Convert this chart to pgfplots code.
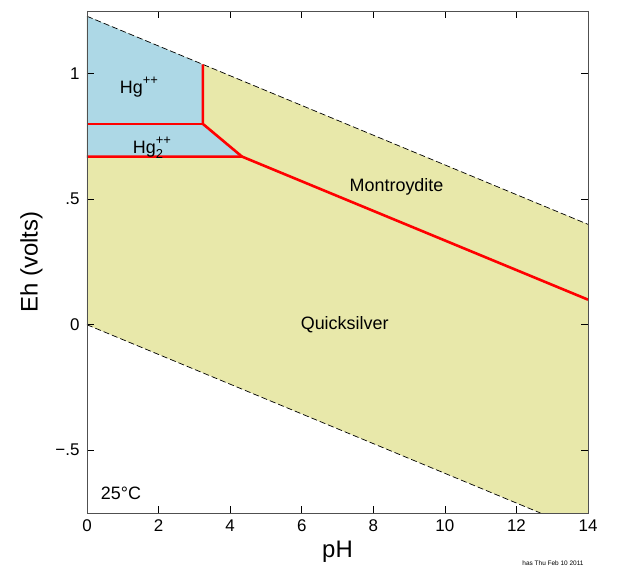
\documentclass[border=0pt]{standalone}
\usepackage{fontspec}
\setmainfont{Liberation Sans}
\usepackage{pgfplots}
\pgfplotsset{compat=1.18}
\definecolor{hgblue}{RGB}{173,216,230}
\definecolor{hgyellow}{RGB}{232,232,170}
\definecolor{frame}{RGB}{80,80,80}
\newcommand{\chsup}[1]{\raisebox{0.5em}{\fontsize{13}{13}\selectfont #1}}
\newcommand{\chsub}[1]{\raisebox{-0.3em}{\fontsize{13}{13}\selectfont #1}}

\begin{document}
\begin{tikzpicture}
\begin{axis}[
  scale only axis, width=501bp, height=502bp,
  xmin=0, xmax=14, ymin=-0.75, ymax=1.25,
  axis on top,
  axis line style={frame, line width=0.8bp},
  tick style={black, line width=0.6bp},
  tick align=inside, major tick length=7bp,
  xtick={0,2,...,14},
  ytick={-0.5,0,0.5,1}, yticklabels={−.5,0,.5,1},
  /pgf/number format/assume math mode=true,
  tick label style={font=\fontsize{17}{20}\selectfont},
  xticklabel style={yshift=-3bp},
  yticklabel style={xshift=-4bp},
  xlabel={pH}, ylabel={Eh (volts)},
  label style={font=\fontsize{24}{28}\selectfont},
  xlabel style={yshift=-3bp},
  ylabel style={yshift=6bp},
  clip=true,
]
\addplot[fill=hgyellow, draw=none] coordinates {
  (0,1.229) (14,0.400) (14,-0.75) (12.67,-0.75) (0,0)} -- cycle;
\addplot[fill=hgblue, draw=none] coordinates {
  (0,1.229) (3.24,1.037) (3.24,0.80) (4.33,0.67) (0,0.67)} -- cycle;
\addplot[black, dash pattern=on 6bp off 3bp, line width=0.7bp] coordinates {(0,1.229) (14,0.400)};
\addplot[black, dash pattern=on 6bp off 3bp, line width=0.7bp] coordinates {(0,0) (12.67,-0.75)};
\addplot[red, line width=2.6bp] coordinates {(0,0.80) (3.24,0.80)};
\addplot[red, line width=2.6bp] coordinates {(3.24,1.037) (3.24,0.80) (4.33,0.67)};
\addplot[red, line width=2.6bp] coordinates {(0,0.67) (4.33,0.67) (14,0.10)};
\node[font=\fontsize{18}{20}\selectfont] at (axis cs:1.45,0.945) {Hg\chsup{++}};
\node[font=\fontsize{18}{20}\selectfont] at (axis cs:1.85,0.705) {Hg\rlap{\chsup{++}}\chsub{2}\hphantom{+}};
\node[font=\fontsize{18}{20}\selectfont] at (axis cs:8.65,0.55) {Montroydite};
\node[font=\fontsize{18}{20}\selectfont] at (axis cs:7.2,0.0) {Quicksilver};
\node[font=\fontsize{18}{20}\selectfont] at (axis cs:0.95,-0.67) {25°C};
\end{axis}
\node[font=\fontsize{6.5}{7}\selectfont] at ([xshift=-35bp,yshift=-50bp]current axis.south east) {has Thu Feb 10 2011};
\pgfresetboundingbox
\path[use as bounding box] ([xshift=-87bp,yshift=-55bp]current axis.south west)
  rectangle ([xshift=52bp,yshift=11bp]current axis.north east);
\end{tikzpicture}
\end{document}
